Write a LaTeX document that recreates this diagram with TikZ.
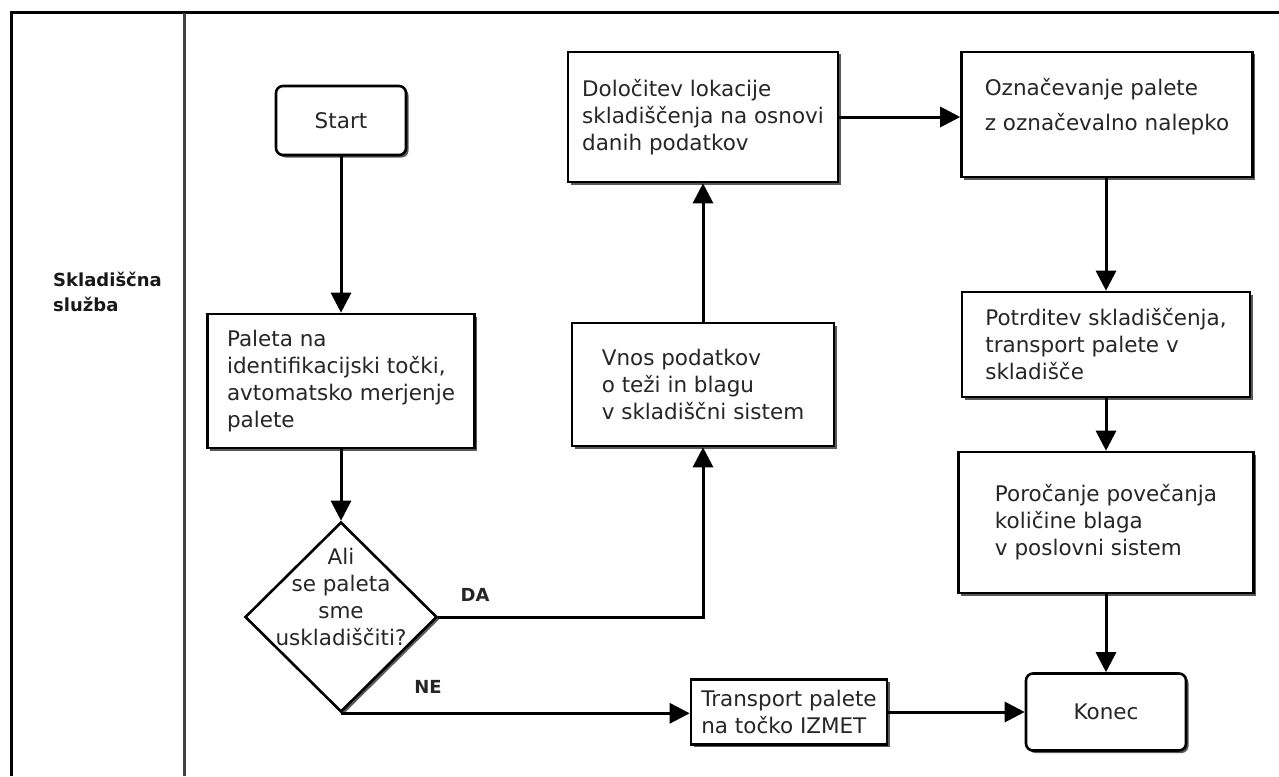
\documentclass[tikz,border=0pt]{standalone}
\usepackage{fontspec}
\setmainfont{DejaVu Sans}
\usetikzlibrary{arrows.meta,shapes.geometric,shadows}

\tikzset{
  boxshadow/.style={general shadow={shadow xshift=2.5pt, shadow yshift=-2.5pt, fill=black!65}},
  procbox/.style={draw=black, line width=2.6pt, fill=white, inner sep=0pt,
    align=left, text=black!85, font=\fontsize{21.5}{27}\selectfont, boxshadow},
  termbox/.style={procbox, rounded corners=7pt, align=center},
  decision/.style={diamond, draw=black, line width=2.6pt, fill=white, inner sep=0pt,
    minimum width=192pt, minimum height=190pt, boxshadow},
  dectext/.style={align=center, text=black!85, font=\fontsize{21.5}{27}\selectfont, inner sep=0pt},
  conn/.style={line width=3pt, draw=black, -{Triangle[length=20pt,width=20pt]}},
  branch/.style={font=\bfseries\fontsize{18}{22}\selectfont, text=black!85, inner sep=0pt},
  lanetext/.style={font=\bfseries\fontsize{18}{25}\selectfont, align=left, text=black!90, inner sep=0pt},
  frameline/.style={line width=3pt, draw=black},
}

\begin{document}
\begin{tikzpicture}[x=1pt, y=-1pt]
  \useasboundingbox (0,0) rectangle (1279,776);

  % swimlane frame
  \draw[frameline] (10,13) -- (1279,13);
  \draw[frameline] (11,13) -- (11,776);
  \draw[frameline, draw=black!75] (184,13) -- (184,776);
  \node[lanetext, anchor=west] (lane) at (53,292) {Skladiščna\\služba};

  % process steps
  \node[termbox, minimum width=130pt, minimum height=69pt] (start) at (341,120.5) {Start};
  \node[procbox, minimum width=267pt, minimum height=134pt] (paleta) at (341,381)
    {Paleta na\\identifikacijski točki,\\avtomatsko merjenje\\palete};
  \node[decision] (dec) at (341,617) {};
  \node[dectext] (dectxt) at (341,597) {Ali\\se paleta\\sme\\uskladiščiti?};

  \node[procbox, minimum width=262pt, minimum height=123pt] (vnos) at (703,384.5)
    {Vnos podatkov\\o teži in blagu\\v skladiščni sistem};
  \node[procbox, minimum width=270pt, minimum height=130pt] (dolocitev) at (703,117)
    {Določitev lokacije\\skladiščenja na osnovi\\danih podatkov};
  \node[procbox, minimum width=291pt, minimum height=125pt] (oznaka) at (1107,114.5)
    {Označevanje palete\\[8pt]z označevalno nalepko\\[-14pt]\strut};
  \node[procbox, minimum width=288pt, minimum height=105pt] (potrditev) at (1106,344.5)
    {Potrditev skladiščenja,\\transport palete v\\skladišče};
  \node[procbox, minimum width=295pt, minimum height=141pt] (porocanje) at (1106,522.5)
    {Poročanje povečanja\\količine blaga\\v poslovni sistem};
  \node[termbox, minimum width=160pt, minimum height=77pt] (konec) at (1106,712) {Konec};
  \node[procbox, minimum width=196pt, minimum height=65pt] (transport) at (789,712)
    {Transport palete\\na točko IZMET};

  % connectors
  \draw[conn] (start) -- (paleta);
  \draw[conn] (paleta) -- (dec);
  \draw[conn] (dec.east) -| (vnos.south);
  \draw[conn] (vnos) -- (dolocitev);
  \draw[conn] (dolocitev.east) -- (dolocitev.east -| oznaka.west);
  \draw[conn] (oznaka.south -| potrditev.north) -- (potrditev.north);
  \draw[conn] (potrditev) -- (porocanje);
  \draw[conn] (porocanje) -- (konec);
  \draw[conn] (dec.south) -- (dec.south -| transport.west);
  \draw[conn] (transport) -- (konec);

  % branch labels
  \node[branch] (da) at (475,595) {DA};
  \node[branch] (ne) at (428,687) {NE};
\end{tikzpicture}
\end{document}
